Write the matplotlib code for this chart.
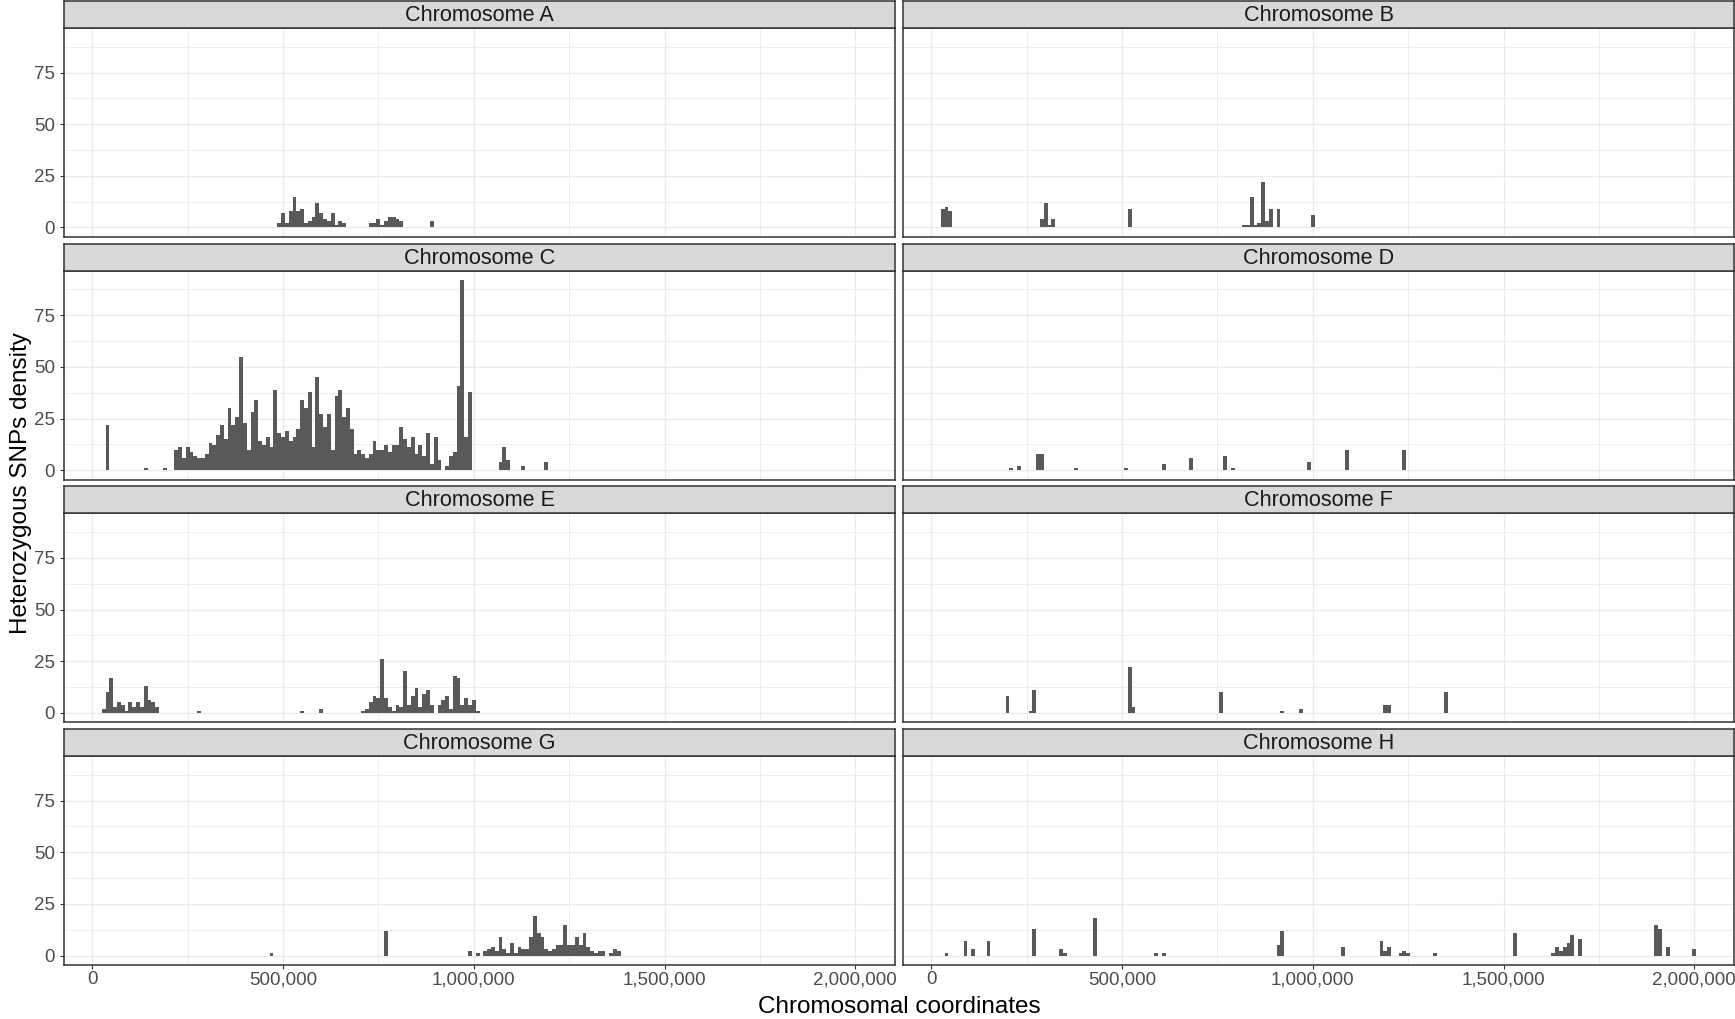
import matplotlib
matplotlib.use("Agg")
import matplotlib.pyplot as plt
from matplotlib.ticker import FixedLocator, FixedFormatter

plt.rcParams['font.family'] = ['Liberation Sans', 'DejaVu Sans']

# ---------------- data ----------------
chromosomes = ["Chromosome A", "Chromosome B", "Chromosome C", "Chromosome D",
               "Chromosome E", "Chromosome F", "Chromosome G", "Chromosome H"]
bin_width = 10000

chrA_pos = [490000, 500000, 510000, 520000, 530000, 540000, 550000, 560000, 570000,
            580000, 590000, 600000, 610000, 620000, 630000, 640000, 650000, 660000,
            730000, 740000, 750000, 760000, 770000, 780000, 790000, 800000, 810000,
            890000]
chrA_count = [2, 7, 2, 8, 15, 8, 9, 2, 3,
              5, 12, 7, 4, 3, 7, 1, 3, 2,
              2, 2, 4, 1, 3, 5, 5, 4, 3,
              3]

chrB_pos = [30000, 40000, 50000, 290000, 300000, 310000, 320000, 520000,
            820000, 830000, 840000, 850000, 860000, 870000, 880000, 890000, 910000,
            1000000]
chrB_count = [9, 10, 8, 4, 12, 1, 4, 9,
              1, 1, 15, 1, 2, 22, 3, 9, 9,
              6]

chrC_pos = [40000, 140000, 190000,
            220000, 230000, 240000, 250000, 260000, 270000, 280000, 290000, 300000, 310000,
            320000, 330000, 340000, 350000, 360000, 370000, 380000, 390000, 400000, 410000,
            420000, 430000, 440000, 450000, 460000, 470000, 480000, 490000, 500000, 510000,
            520000, 530000, 540000, 550000, 560000, 570000, 580000, 590000, 600000, 610000,
            620000, 630000, 640000, 650000, 660000, 670000, 680000, 690000, 700000, 710000,
            720000, 730000, 740000, 750000, 760000, 770000, 780000, 790000, 800000, 810000,
            820000, 830000, 840000, 850000, 860000, 870000, 880000, 890000, 900000, 910000,
            930000, 940000, 950000, 960000, 970000, 980000, 990000,
            1070000, 1080000, 1090000, 1130000, 1190000]
chrC_count = [22, 1, 1,
              10, 11, 6, 11, 9, 7, 6, 6, 8, 13,
              12, 17, 22, 15, 30, 22, 26, 55, 23, 10,
              28, 34, 14, 12, 16, 11, 39, 18, 16, 19,
              14, 16, 20, 34, 30, 38, 11, 45, 27, 21,
              27, 10, 36, 39, 26, 30, 20, 8, 10, 8,
              6, 8, 14, 10, 10, 12, 9, 12, 12, 21,
              15, 11, 16, 8, 12, 7, 18, 3, 16, 5,
              2, 7, 9, 41, 92, 16, 38,
              4, 11, 5, 2, 4]

chrD_pos = [210000, 230000, 280000, 290000, 380000, 510000, 610000, 680000,
            770000, 790000, 990000, 1090000, 1240000]
chrD_count = [1, 2, 8, 8, 1, 1, 3, 6,
              7, 1, 4, 10, 10]

chrE_pos = [30000, 40000, 50000, 60000, 70000, 80000, 90000, 100000, 110000, 120000,
            130000, 140000, 150000, 160000, 170000,
            280000, 550000, 600000,
            710000, 720000, 730000, 740000, 750000, 760000, 770000, 780000, 790000, 800000,
            810000, 820000, 830000, 840000, 850000, 860000, 870000, 880000, 890000,
            910000, 920000, 930000, 940000, 950000, 960000, 970000, 980000, 990000, 1000000,
            1010000]
chrE_count = [2, 10, 17, 3, 5, 4, 1, 5, 3, 5,
              3, 13, 6, 5, 3,
              1, 1, 2,
              1, 2, 5, 8, 7, 26, 7, 3, 1, 4,
              3, 20, 4, 8, 12, 3, 9, 11, 4,
              4, 6, 8, 2, 18, 17, 4, 7, 4, 6,
              1]

chrF_pos = [200000, 260000, 270000, 520000, 530000, 760000, 920000, 970000,
            1190000, 1200000, 1350000]
chrF_count = [8, 1, 11, 22, 3, 10, 1, 2,
              4, 4, 10]

chrG_pos = [470000, 770000, 990000, 1010000,
            1030000, 1040000, 1050000, 1060000, 1070000, 1080000, 1090000, 1100000,
            1110000, 1120000, 1130000, 1140000, 1150000, 1160000, 1170000, 1180000,
            1190000, 1200000, 1210000, 1220000, 1230000, 1240000, 1250000, 1260000,
            1270000, 1280000, 1290000, 1300000, 1310000, 1320000, 1330000, 1340000,
            1360000, 1370000, 1380000]
chrG_count = [1, 12, 2, 1,
              2, 3, 4, 2, 9, 3, 1, 6,
              1, 4, 3, 3, 9, 19, 11, 9,
              3, 2, 3, 5, 5, 15, 5, 5,
              9, 5, 11, 4, 2, 1, 2, 2,
              1, 3, 2]

chrH_pos = [40000, 90000, 110000, 150000, 270000, 340000, 350000, 430000, 590000, 610000,
            910000, 920000, 1080000, 1180000, 1190000, 1200000, 1230000, 1240000, 1250000,
            1320000, 1530000, 1630000, 1640000, 1650000, 1660000, 1670000, 1680000, 1700000,
            1900000, 1910000, 1930000, 2000000]
chrH_count = [1, 7, 3, 7, 13, 3, 1, 18, 1, 1,
              5, 12, 4, 7, 2, 4, 1, 2, 1,
              1, 11, 1, 4, 2, 4, 6, 10, 8,
              15, 13, 4, 3]

x_ticks = [0, 500000, 1000000, 1500000, 2000000]
x_tick_labels = ["0", "500,000", "1,000,000", "1,500,000", "2,000,000"]
x_minor = [250000, 750000, 1250000, 1750000]
y_ticks = [0, 25, 50, 75]
y_tick_labels = ["0", "25", "50", "75"]
y_minor = [12.5, 37.5, 62.5, 87.5]

x_title = "Chromosomal coordinates"
y_title = "Heterozygous SNPs density"

panels = [(chromosomes[0], chrA_pos, chrA_count), (chromosomes[1], chrB_pos, chrB_count),
          (chromosomes[2], chrC_pos, chrC_count), (chromosomes[3], chrD_pos, chrD_count),
          (chromosomes[4], chrE_pos, chrE_count), (chromosomes[5], chrF_pos, chrF_count),
          (chromosomes[6], chrG_pos, chrG_count), (chromosomes[7], chrH_pos, chrH_count)]

# ---------------- scales (shared, ggplot-like 5% expansion) ----------------
all_pos = [p for _, ps, _ in panels for p in ps]
all_cnt = [c for _, _, cs in panels for c in cs]
x_lo = min(all_pos) - bin_width / 2
x_hi = max(all_pos) + bin_width / 2
x_pad = (x_hi - x_lo) * 0.05
y_hi = max(all_cnt)
y_pad = y_hi * 0.05

# ---------------- layout (pixels) ----------------
W, H = 1735, 1019
col_left = [64, 903]
panel_w = 831
row_bottom = [237, 479.7, 722.3, 965]
panel_h = 209
strip_h = 27

BORDER = '#333333'
GRID = '#EBEBEB'
BAR = '#595959'

fig = plt.figure(figsize=(W / 100, H / 100), dpi=100)

for i, (name, pos, cnt) in enumerate(panels):
    r, c = divmod(i, 2)
    left = col_left[c] / W
    bottom = 1 - row_bottom[r] / H
    ax = fig.add_axes([left, bottom, panel_w / W, panel_h / H])
    ax.bar(pos, cnt, width=bin_width, color=BAR, linewidth=0, zorder=2)
    ax.set_xlim(x_lo - x_pad, x_hi + x_pad)
    ax.set_ylim(-y_pad, y_hi + y_pad)
    ax.xaxis.set_major_locator(FixedLocator(x_ticks))
    ax.xaxis.set_major_formatter(FixedFormatter(x_tick_labels))
    ax.xaxis.set_minor_locator(FixedLocator(x_minor))
    ax.yaxis.set_major_locator(FixedLocator(y_ticks))
    ax.yaxis.set_major_formatter(FixedFormatter(y_tick_labels))
    ax.yaxis.set_minor_locator(FixedLocator(y_minor))
    ax.grid(which='major', color=GRID, linewidth=1.0, zorder=0)
    ax.grid(which='minor', color=GRID, linewidth=0.6, zorder=0)
    ax.set_axisbelow(True)
    ax.tick_params(which='minor', length=0)
    ax.tick_params(which='major', direction='out', length=2.9, width=0.8,
                   color=BORDER, labelsize=13.5, labelcolor='#4D4D4D')
    ax.tick_params(axis='y', pad=3.5)
    ax.tick_params(axis='x', pad=1.5)
    if c != 0:
        ax.tick_params(axis='y', left=False, labelleft=False)
    if r != 3:
        ax.tick_params(axis='x', bottom=False, labelbottom=False)
    for s in ax.spines.values():
        s.set_color(BORDER)
        s.set_linewidth(1.1)

    sax = fig.add_axes([left, 1 - (row_bottom[r] - panel_h) / H, panel_w / W, strip_h / H])
    sax.set_facecolor('#D9D9D9')
    sax.set_xticks([])
    sax.set_yticks([])
    for s in sax.spines.values():
        s.set_color(BORDER)
        s.set_linewidth(1.1)
    sax.text(0.5, 0.46, name, ha='center', va='center', fontsize=15.6,
             color='#1A1A1A', transform=sax.transAxes)

fig.text(899 / W, 1 - 1007 / H, x_title, ha='center', va='center', fontsize=17.5, color='black')
fig.text(21 / W, 1 - 483 / H, y_title, ha='center', va='center', rotation=90,
         fontsize=17.5, color='black')

fig.savefig('out.png', dpi=100)
